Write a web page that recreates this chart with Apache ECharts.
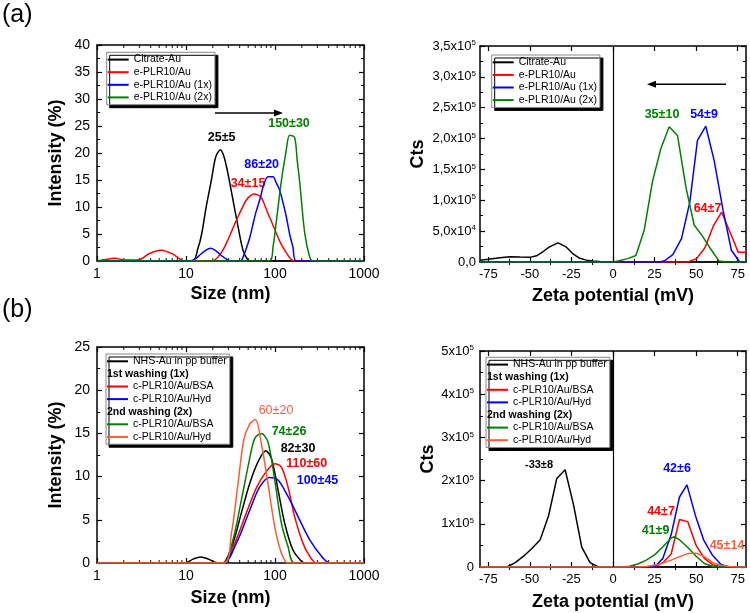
<!DOCTYPE html>
<html><head><meta charset="utf-8">
<script src="https://cdn.jsdelivr.net/npm/echarts@6/dist/echarts.min.js"></script>
<style>html,body{margin:0;padding:0;background:#fff}#c{width:750px;height:613px}</style>
</head><body><div id="c"></div><script>
// ---------- DATA ----------
// (a) left: DLS size distributions [size nm, intensity %]
const aSizeCitrate = [[1,0],[11.8,0],[13.6,2.3],[15,5],[16.9,10.1],[19.3,15],[21.6,19.3],[24.4,20.6],[26.5,19.5],[28.5,17.5],[31,14.5],[33.7,11.3],[38.4,6.4],[43.7,2],[49.7,0.2],[55,0],[1000,0]];
const aSizePLR = [[1,0],[1.25,0.3],[1.58,0.5],[2.05,0.2],[2.9,0.2],[3.9,1.4],[5.3,2],[7.1,1.3],[9.7,0],[20,0],[23,0.8],[26,2],[29.6,3.9],[33.5,6],[38.4,8.2],[43,9.9],[47.7,11.3],[53,12.1],[58.1,12.4],[63,12.3],[70,11.8],[76,10.5],[83.4,8.8],[93,7],[103.7,5.1],[115,3.4],[128.5,2],[152,0.3],[166,0],[1000,0]];
const aSizePLR1x = [[1,0],[11.2,0],[13,0.5],[15.5,1.6],[18.9,2.35],[22,1.8],[26,0.8],[32,0],[41,0],[44,0.8],[48,2.5],[52,4.3],[56,6.5],[61,9],[67.3,11.3],[75,14.2],[83.4,15.6],[95,15.6],[103,14.5],[113,13.1],[123,10.8],[134,8.2],[146,5],[159,2.6],[174,0],[1000,0]];
const aSizePLR2x = [[1,0],[87,0],[95,2.6],[103,7],[113,12.5],[122,16.5],[132,19.9],[146,23.3],[166,22.9],[178,18.5],[190,14.4],[216,5.1],[245,0.8],[267,0],[1000,0]];
// (a) right: zeta potential [mV, counts]
const aZetaCitrate = [[-80,2800],[-75,4400],[-68,7000],[-62,8700],[-56,8000],[-50,7500],[-46,10000],[-42,17000],[-38,25000],[-33,31000],[-28,24000],[-24,13000],[-20,6000],[-16,3000],[-12,1500],[-8,800],[0,0],[80,0]];
const aZetaPLR = [[-80,0],[45,0],[50.3,5500],[55.3,23000],[60.3,58000],[65.3,81000],[70.3,49000],[75.3,16000],[80,16000]];
const aZetaPLR1x = [[-80,0],[28,0],[31,2000],[36,12000],[41.2,38000],[46.2,97000],[50.8,197000],[55.8,220000],[60.8,165000],[66.2,84000],[71.2,19000],[76.2,0],[80,0]];
const aZetaPLR2x = [[-80,0],[0,0],[3.8,2000],[8.8,5500],[13.8,10500],[18.8,52000],[23.8,131000],[28.8,184000],[33.8,219000],[38.8,205000],[43.8,122000],[48.8,60000],[53.8,42000],[58.8,21000],[63.8,1500],[68.8,0],[80,0]];
// (b) left: DLS size distributions
const bSizeNHS = [[1,0],[9.7,0],[12,0.45],[14.6,0.7],[17.5,0.5],[21,0.1],[24,0],[26,0],[33.7,2.3],[41.9,5.8],[52,9.2],[64.4,11.7],[78.7,13],[91.2,12.1],[108,8.5],[128.5,4.6],[159,1.5],[198,0.2],[216,0],[1000,0]];
const bSizeBSA1x = [[1,0],[26,0],[35.3,2.3],[47.7,5.8],[61.8,8.7],[80,10.6],[99.3,11.5],[118,11.1],[140,8.8],[166,5.4],[206,2.3],[245,0.8],[292,0],[1000,0]];
const bSizeHyd1x = [[1,0],[26,0],[36.8,2.3],[52,6.1],[67.3,8.8],[87.2,9.9],[108,9.6],[140,7.7],[181,5.4],[245,2.7],[332,0.8],[412,0],[1000,0]];
const bSizeBSA2x = [[1,0],[26,0],[33.7,2.7],[41.9,7.3],[52,12.1],[59.1,14.4],[70.3,15],[83.4,14],[99.3,9.6],[118,4.6],[140,1.9],[166,0],[1000,0]];
const bSizeHyd2x = [[1,0],[26.1,0],[32.4,3.46],[38.4,9.2],[44.5,14.2],[52,16.1],[60.2,16.6],[70.3,13.8],[83.4,9.2],[99.3,4.2],[118,1.15],[140,0],[1000,0]];
// (b) right: zeta potential
const bZetaNHS = [[-80,0],[-63.8,0],[-58.8,10000],[-53.8,25000],[-48.8,43000],[-43.8,63000],[-38.8,118000],[-33.8,205000],[-28.8,225000],[-23.8,145000],[-18.8,46000],[-13.8,10000],[-8.8,0],[80,0]];
const bZetaBSA1x = [[-80,0],[25,0],[30,10000],[35,30000],[40,110000],[45,105000],[50,50000],[55,20000],[60,5000],[65,0],[80,0]];
const bZetaHyd1x = [[-80,0],[25,0],[30,20000],[35,75000],[40,162000],[44.5,190000],[49.5,120000],[54.5,63000],[59.5,29000],[65,6000],[70,0],[80,0]];
const bZetaBSA2x = [[-80,0],[5,0],[10,2000],[15,7000],[20,16000],[25,28000],[30,47000],[35,67000],[37,70000],[40,63000],[45,45000],[50,25000],[55,8000],[60,1000],[65,0],[80,0]];
const bZetaHyd2x = [[-80,0],[15,0],[20,1000],[25,4000],[30,9000],[35,16000],[40,24000],[45,31000],[50,32000],[55,24000],[60,10000],[65,4000],[70,1000],[75,0],[80,0]];

// tick values
const logMinorTicks = [2,3,4,5,6,7,8,9,20,30,40,50,60,70,80,90,200,300,400,500,600,700,800,900];
const zetaMajorTicks = [-75,-50,-25,0,25,50,75];
const zetaMinorTicks = [-62.5,-37.5,-12.5,12.5,37.5,62.5];

// legend names and peak labels
const aNames = ['Citrate-Au','e-PLR10/Au','e-PLR10/Au (1x)','e-PLR10/Au (2x)'];
const bNames = ['NHS-Au in pp buffer','1st washing (1x)','c-PLR10/Au/BSA','c-PLR10/Au/Hyd','2nd washing (2x)','c-PLR10/Au/BSA','c-PLR10/Au/Hyd'];
const aSizeLabels = ['25±5','34±15','86±20','150±30'];
const aZetaLabels = ['35±10','54±9','64±7'];
const bSizeLabels = ['60±20','74±26','82±30','110±60','100±45'];
const bZetaLabels = ['-33±8','42±6','44±7','41±9','45±14'];

// ---------- STYLE ----------
const FONT = '"Liberation Sans", Arial, sans-serif';
const C = {black:'#000000', red:'#ff0000', blue:'#0000ff', green:'#008000', orange:'#ff5a36'};

const grids = [
  {left:97, top:45, width:267, height:216},
  {left:480, top:46, width:266, height:216},
  {left:97, top:347, width:267, height:216},
  {left:480, top:351, width:266, height:216}
];

const lineAxis = {show:true, onZero:false, lineStyle:{color:'#000', width:1.5}};
const tick = {show:true, inside:true, length:5, lineStyle:{color:'#000', width:1.2}};
const minor = {show:true, splitNumber:2, length:3, lineStyle:{color:'#000', width:1}};
const nameStyle = {fontFamily:FONT, fontSize:18, fontWeight:'bold', color:'#000'};

function logX(gi, pos, name, nameGap){
  return {type:'log', logBase:10, gridIndex:gi, position:pos, min:1, max:1000,
    axisLine:lineAxis, axisTick:tick, splitLine:{show:false},
    axisLabel:{show:!!name, color:'#000', fontSize:14, fontFamily:FONT, margin:6, formatter:v=>String(Math.round(v))},
    name:name||'', nameLocation:'middle', nameGap:nameGap||0, nameTextStyle:nameStyle};
}
function zetaX(gi, pos, name, nameGap){
  return {type:'value', gridIndex:gi, position:pos, min:-80, max:80,
    axisLine:lineAxis, axisTick:Object.assign({}, tick, {customValues:zetaMajorTicks}), splitLine:{show:false},
    axisLabel:{show:!!name, customValues:zetaMajorTicks, color:'#000', fontSize:13, fontFamily:FONT, margin:6},
    name:name||'', nameLocation:'middle', nameGap:nameGap||0, nameTextStyle:nameStyle};
}
function zetaMinorX(gi, pos){
  return {type:'value', gridIndex:gi, position:pos, min:-80, max:80,
    axisLine:{show:false}, splitLine:{show:false}, axisLabel:{show:false},
    axisTick:{show:true, inside:true, length:3, customValues:zetaMinorTicks, lineStyle:{color:'#000', width:1}}};
}
function linY(gi, pos, max, interval, labelOpt, name, nameGap){
  return {type:'value', gridIndex:gi, position:pos, min:0, max:max, interval:interval,
    axisLine:lineAxis, axisTick:tick, minorTick:minor, splitLine:{show:false}, minorSplitLine:{show:false},
    axisLabel: labelOpt ? Object.assign({color:'#000', fontFamily:FONT}, labelOpt) : {show:false},
    name:name||'', nameLocation:'middle', nameRotate:90, nameGap:nameGap||0, nameTextStyle:nameStyle};
}

const supRich = {sup:{fontSize:8, fontFamily:FONT, color:'#000', verticalAlign:'bottom', padding:[0,0,6,0]}};
function aZetaFmt(v){
  if (v === 0) return '0,0';
  const e = v >= 1e5 ? 5 : 4;
  const m = (v/Math.pow(10,e)).toFixed(1).replace('.', ',');
  return m + 'x10{sup|' + e + '}';
}
function bZetaFmt(v){
  if (v === 0) return '0';
  return Math.round(v/1e5) + 'x10{sup|5}';
}

const xAxis = [
  logX(0,'bottom','Size (nm)',24), logX(0,'top'),
  zetaX(1,'bottom','Zeta potential (mV)',25), zetaX(1,'top'), zetaMinorX(1,'bottom'), zetaMinorX(1,'top'),
  logX(2,'bottom','Size (nm)',26), logX(2,'top'),
  zetaX(3,'bottom','Zeta potential (mV)',26), zetaX(3,'top'), zetaMinorX(3,'bottom'), zetaMinorX(3,'top')
];
const yAxis = [
  linY(0,'left',40,5,{fontSize:14, margin:7},'Intensity (%)',32), linY(0,'right',40,5,null),
  linY(1,'left',350000,50000,{fontSize:13, margin:4, formatter:aZetaFmt, rich:supRich},'Cts',53), linY(1,'right',350000,50000,null),
  linY(2,'left',25,5,{fontSize:14, margin:7},'Intensity (%)',32), linY(2,'right',25,5,null),
  linY(3,'left',500000,100000,{fontSize:13, margin:6, formatter:bZetaFmt, rich:supRich},'Cts',42), linY(3,'right',500000,100000,null)
];

function ln(name, data, color, xi, yi, smooth, extra){
  return Object.assign({type:'line', name:name, data:data, xAxisIndex:xi, yAxisIndex:yi,
    symbol:'none', showSymbol:false, smooth:smooth, silent:true,
    lineStyle:{color:color, width:1.5}, itemStyle:{color:color}}, extra||{});
}
function header(name, xi, yi){
  return {type:'line', name:name, data:[], xAxisIndex:xi, yAxisIndex:yi, symbol:'none', itemStyle:{color:'#000'}, lineStyle:{color:'#000'}};
}
function minorTicksSeries(xi, yi, yBottom, yTop){
  const bottom = logMinorTicks.map(v => [v, yBottom]);
  const top = logMinorTicks.map(v => [v, yTop]);
  return [
    {type:'scatter', data:bottom, xAxisIndex:xi, yAxisIndex:yi, symbol:'rect', symbolSize:[1.2,3], symbolOffset:[0,-1.5], itemStyle:{color:'#000'}, silent:true, clip:false},
    {type:'scatter', data:top, xAxisIndex:xi, yAxisIndex:yi, symbol:'rect', symbolSize:[1.2,3], symbolOffset:[0,1.5], itemStyle:{color:'#000'}, silent:true, clip:false}
  ];
}
const zeroLine = {markLine:{silent:true, symbol:['none','none'], label:{show:false}, lineStyle:{color:'#000', width:1.2, type:'solid'}, data:[{xAxis:0}]}};

const series = [
  // (a) left
  ln(aNames[0]+'|a1', aSizeCitrate, C.black, 0, 0, 0.3),
  ln(aNames[1]+'|a1', aSizePLR, C.red, 0, 0, 0.3),
  ln(aNames[2]+'|a1', aSizePLR1x, C.blue, 0, 0, 0.3),
  ln(aNames[3]+'|a1', aSizePLR2x, C.green, 0, 0, 0.3),
  ...minorTicksSeries(0, 0, 0, 40),
  // (a) right
  ln(aNames[0]+'|a2', aZetaCitrate, C.black, 2, 2, false, zeroLine),
  ln(aNames[1]+'|a2', aZetaPLR, C.red, 2, 2, false),
  ln(aNames[2]+'|a2', aZetaPLR1x, C.blue, 2, 2, false),
  ln(aNames[3]+'|a2', aZetaPLR2x, C.green, 2, 2, false),
  // (b) left
  ln(bNames[0]+'|b1', bSizeNHS, C.black, 6, 4, 0.3),
  header(bNames[1]+'|b1', 6, 4),
  ln(bNames[2]+'|b1a', bSizeBSA1x, C.red, 6, 4, 0.3),
  ln(bNames[3]+'|b1a', bSizeHyd1x, C.blue, 6, 4, 0.3),
  header(bNames[4]+'|b1', 6, 4),
  ln(bNames[5]+'|b1b', bSizeBSA2x, C.green, 6, 4, 0.3),
  ln(bNames[6]+'|b1b', bSizeHyd2x, C.orange, 6, 4, 0.3),
  ...minorTicksSeries(6, 4, 0, 25),
  // (b) right
  ln(bNames[0]+'|b2', bZetaNHS, C.black, 8, 6, false, zeroLine),
  header(bNames[1]+'|b2', 8, 6),
  ln(bNames[2]+'|b2a', bZetaBSA1x, C.red, 8, 6, false),
  ln(bNames[3]+'|b2a', bZetaHyd1x, C.blue, 8, 6, false),
  header(bNames[4]+'|b2', 8, 6),
  ln(bNames[5]+'|b2b', bZetaBSA2x, C.green, 8, 6, false),
  ln(bNames[6]+'|b2b', bZetaHyd2x, C.orange, 8, 6, false)
];

function legend(left, top, names, suffixes, headerIdx){
  return {left:left, top:top, orient:'vertical', itemWidth:21, itemHeight:2, itemGap:0, icon:'rect',
    padding:[1,3,1,1], backgroundColor:'#fff', borderColor:'#888', borderWidth:1,
    shadowColor:'#000', shadowOffsetX:3, shadowOffsetY:3, shadowBlur:0,
    selectedMode:false, textStyle:{fontFamily:FONT, fontSize:10.5, color:'#000', lineHeight:8.6, padding:[4,0,0,0]},
    formatter: n => n.split('|')[0],
    data: names.map((n,i) => headerIdx.indexOf(i) >= 0
      ? {name:n+'|'+suffixes[i], icon:'none', textStyle:{fontWeight:'bold', padding:[4,0,0,-26]}}
      : {name:n+'|'+suffixes[i]})};
}

const legends = [
  legend(106.7, 52.3, aNames, ['a1','a1','a1','a1'], []),
  legend(491.7, 55, aNames, ['a2','a2','a2','a2'], []),
  legend(106, 354, bNames, ['b1','b1','b1a','b1a','b1','b1b','b1b'], [1,4]),
  legend(486, 357.3, bNames, ['b2','b2','b2a','b2a','b2','b2b','b2b'], [1,4])
];

function txt(s, x, y, color, size, weight){
  return {type:'text', x:x, y:y, silent:true, style:{text:s, fill:color, fontFamily:FONT, fontSize:size, fontWeight:weight||'bold', align:'center', verticalAlign:'middle'}};
}
const graphic = [
  {type:'text', left:2, top:3, style:{text:'(a)', fill:'#000', fontFamily:FONT, fontSize:25}},
  {type:'text', left:2, top:298, style:{text:'(b)', fill:'#000', fontFamily:FONT, fontSize:25}},
  txt(aSizeLabels[0], 221.7, 138, C.black, 12.5),
  txt(aSizeLabels[1], 248, 184, C.red, 12.5),
  txt(aSizeLabels[2], 261.7, 165, C.blue, 12.5),
  txt(aSizeLabels[3], 289, 124, C.green, 12.5),
  txt(aZetaLabels[0], 662, 115, C.green, 12.5),
  txt(aZetaLabels[1], 704, 115, C.blue, 12.5),
  txt(aZetaLabels[2], 707.5, 208.7, C.red, 12.5),
  txt(bSizeLabels[0], 276, 411, C.orange, 12.5, 'normal'),
  txt(bSizeLabels[1], 289, 432, C.green, 12.5),
  txt(bSizeLabels[2], 298, 449, C.black, 12.5),
  txt(bSizeLabels[3], 306.7, 464, C.red, 12.5),
  txt(bSizeLabels[4], 317.5, 481, C.blue, 12.5),
  txt(bZetaLabels[0], 539, 465, C.black, 11),
  txt(bZetaLabels[1], 677, 469, C.blue, 12.5),
  txt(bZetaLabels[2], 661, 512, C.red, 12.5),
  txt(bZetaLabels[3], 655.5, 531, C.green, 12.5),
  txt(bZetaLabels[4], 727, 546, C.orange, 12.5),
  // arrows
  {type:'line', silent:true, shape:{x1:215, y1:113, x2:276, y2:113}, style:{stroke:'#000', lineWidth:1.5}},
  {type:'polygon', silent:true, shape:{points:[[283,113],[274,109.5],[274,116.5]]}, style:{fill:'#000'}},
  {type:'line', silent:true, shape:{x1:726, y1:84.3, x2:654, y2:84.3}, style:{stroke:'#000', lineWidth:1.5}},
  {type:'polygon', silent:true, shape:{points:[[647,84.3],[656,80.8],[656,87.8]]}, style:{fill:'#000'}}
];

const chart = echarts.init(document.getElementById('c'), null, {renderer:'canvas'});
chart.setOption({
  animation:false,
  backgroundColor:'#fff',
  grid: grids,
  xAxis: xAxis,
  yAxis: yAxis,
  legend: legends,
  series: series,
  graphic: graphic
});
</script></body></html>
